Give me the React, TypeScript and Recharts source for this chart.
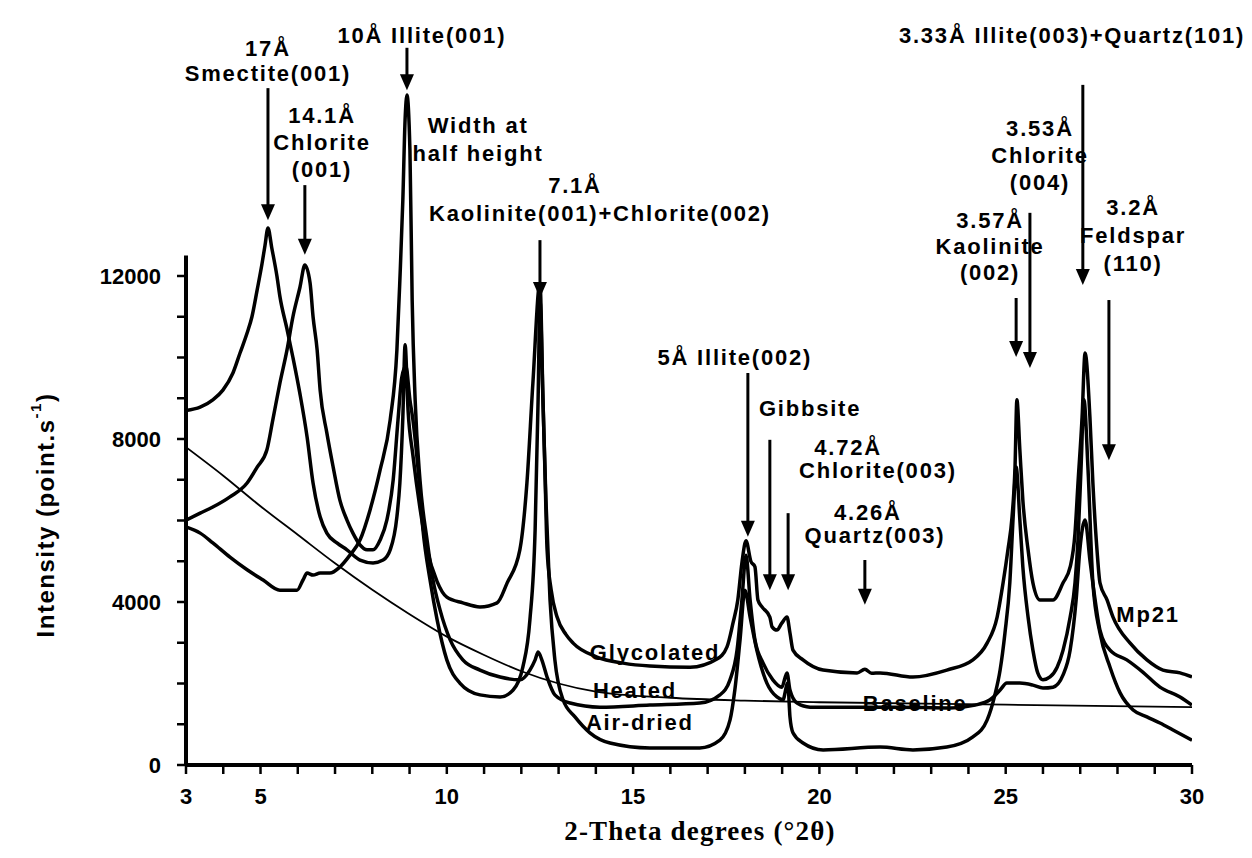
import React from "react";
import { LineChart, Line, XAxis, YAxis, ReferenceLine, ReferenceDot } from "recharts";

// 2-theta (degrees) vs intensity (counts/s)
const thetaTicks = [3, 4, 5, 6, 7, 8, 9, 10, 11, 12, 13, 14, 15, 16, 17, 18, 19, 20, 21, 22, 23, 24, 25, 26, 27, 28, 29, 30];
const thetaLabels = [3, 5, 10, 15, 20, 25, 30];
const intensityTicks = [0, 1000, 2000, 3000, 4000, 5000, 6000, 7000, 8000, 9000, 10000, 11000, 12000];
const intensityLabels = [0, 4000, 8000, 12000];

const glycolated: [number, number][] = [
  [3.0, 8700], [3.38, 8780], [3.72, 8960], [3.99, 9200], [4.26, 9620], [4.45, 10110], [4.64, 10600],
  [4.77, 11000], [4.91, 11660], [5.04, 12300], [5.12, 12750], [5.2, 13180], [5.3, 12700], [5.44, 12000],
  [5.52, 11500], [5.71, 10700], [5.87, 10000], [6.06, 9100], [6.25, 8050], [6.41, 6920], [6.6, 6090],
  [6.78, 5690], [7.05, 5450], [7.32, 5280], [7.67, 5030], [8.02, 4960], [8.29, 5030], [8.48, 5280],
  [8.66, 6090], [8.74, 6920], [8.82, 8540], [8.88, 10310], [8.96, 8700], [9.09, 7600], [9.28, 6300],
  [9.47, 5300], [9.74, 4500], [10.0, 4120], [10.43, 3980], [10.89, 3880], [11.35, 3980], [11.62, 4470],
  [11.96, 5280], [12.15, 6920], [12.31, 9370], [12.5, 11830], [12.58, 9000], [12.64, 7000], [12.69, 5300],
  [12.8, 4300], [12.96, 3630], [13.2, 3200], [13.39, 2990], [14.03, 2650], [14.73, 2500], [15.45, 2430],
  [16.53, 2400], [17.25, 2600], [17.52, 2900], [17.68, 3480], [17.81, 4050], [17.92, 4960], [18.03, 5500],
  [18.16, 5000], [18.27, 4860], [18.35, 4050], [18.46, 3880], [18.67, 3630], [18.73, 3390], [18.86, 3310],
  [18.99, 3480], [19.13, 3630], [19.21, 3240], [19.29, 2820], [19.56, 2580], [20.1, 2330], [21.01, 2260],
  [21.22, 2350], [21.4, 2250], [21.63, 2260], [22.51, 2160], [23.42, 2330], [24.12, 2580], [24.5, 2990],
  [24.77, 3630], [24.93, 4470], [25.06, 5280], [25.17, 6090], [25.25, 7310], [25.3, 8960], [25.38, 7730],
  [25.46, 6500], [25.6, 5280], [25.73, 4470], [25.92, 4050], [26.27, 4050], [26.54, 4470], [26.73, 4860],
  [26.86, 5690], [26.94, 6920], [27.05, 8540], [27.13, 10110], [27.26, 8540], [27.34, 6920], [27.45, 5280],
  [27.53, 4470], [27.72, 4050], [27.88, 3630], [28.34, 2990], [28.79, 2580], [29.22, 2330], [29.68, 2260],
  [30.0, 2160],
];

const heated: [number, number][] = [
  [3.0, 5840], [3.38, 5690], [3.72, 5450], [4.18, 5100], [4.64, 4790], [5.07, 4540], [5.52, 4290],
  [5.98, 4290], [6.14, 4540], [6.25, 4710], [6.41, 4660], [6.6, 4710], [6.86, 4710], [7.13, 4860],
  [7.4, 5150], [7.67, 5520], [7.94, 6260], [8.21, 7240], [8.48, 8470], [8.66, 10180], [8.74, 11900],
  [8.82, 13870], [8.88, 15830], [8.93, 16440], [9.01, 15090], [9.07, 11410], [9.15, 8960], [9.28, 6990],
  [9.47, 5520], [9.63, 4540], [9.82, 3800], [10.09, 3070], [10.43, 2580], [10.89, 2330], [11.43, 2160],
  [11.96, 2090], [12.23, 2330], [12.37, 2580], [12.45, 2770], [12.55, 2580], [12.69, 2160], [12.9, 1720],
  [13.31, 1520], [14.11, 1420], [15.45, 1470], [16.79, 1520], [17.33, 1720], [17.6, 2090], [17.79, 2820],
  [17.92, 4050], [18.03, 5150], [18.14, 4050], [18.27, 3070], [18.49, 2500], [18.75, 2090], [18.99, 1910],
  [19.13, 2260], [19.21, 1840], [19.4, 1520], [19.75, 1420], [20.82, 1420], [22.16, 1420], [23.5, 1400],
  [24.18, 1470], [24.58, 1600], [24.85, 1840], [25.03, 2010], [25.38, 2010], [25.73, 1960], [26.0, 1890],
  [26.27, 1910], [26.54, 2210], [26.73, 2820], [26.89, 4050], [26.99, 5280], [27.13, 6010], [27.26, 5030],
  [27.4, 4050], [27.53, 3310], [27.8, 2820], [28.25, 2580], [28.68, 2280], [29.14, 1910], [29.68, 1670],
  [30.0, 1470],
];

const airDried: [number, number][] = [
  [3.0, 6010], [3.38, 6180], [3.72, 6330], [4.18, 6580], [4.64, 6920], [4.91, 7310], [5.17, 7730],
  [5.33, 8470], [5.52, 9370], [5.71, 10180], [5.87, 11000], [6.06, 11730], [6.19, 12270], [6.33, 11830],
  [6.41, 11000], [6.52, 10180], [6.6, 9200], [6.78, 8150], [6.95, 7310], [7.13, 6500], [7.32, 6010],
  [7.48, 5690], [7.67, 5400], [7.86, 5280], [8.02, 5280], [8.21, 5520], [8.39, 6010], [8.56, 6990],
  [8.69, 8470], [8.79, 9500], [8.9, 9800], [9.01, 8960], [9.09, 8470], [9.23, 7240], [9.36, 5770],
  [9.55, 4540], [9.74, 3560], [10.0, 2580], [10.35, 2010], [10.89, 1720], [11.43, 1670], [11.78, 1840],
  [12.04, 2400], [12.23, 3560], [12.37, 5770], [12.45, 8960], [12.5, 11410], [12.58, 8960], [12.66, 6500],
  [12.77, 4050], [12.9, 2580], [13.12, 1600], [13.44, 1180], [13.84, 790], [14.38, 540], [15.45, 420],
  [16.79, 420], [17.33, 610], [17.6, 1100], [17.73, 1840], [17.87, 3070], [18.0, 4290], [18.14, 3630],
  [18.32, 2820], [18.59, 2010], [18.86, 1670], [19.02, 1600], [19.15, 2010], [19.21, 1180], [19.29, 790],
  [19.56, 540], [20.1, 370], [21.63, 440], [22.51, 370], [23.42, 440], [24.12, 690], [24.5, 1100],
  [24.71, 1720], [24.85, 2330], [24.98, 3240], [25.11, 4470], [25.2, 6090], [25.28, 7310], [25.38, 6010],
  [25.46, 4860], [25.6, 3630], [25.73, 2820], [25.86, 2260], [26.0, 2090], [26.19, 2160], [26.38, 2400],
  [26.54, 2820], [26.73, 3630], [26.86, 4470], [26.94, 5520], [27.02, 7240], [27.1, 8960], [27.21, 7240],
  [27.34, 4470], [27.53, 3240], [27.8, 2400], [28.07, 1770], [28.42, 1350], [28.79, 1180], [29.14, 1030],
  [29.49, 860], [30.0, 610],
];

const baseline: [number, number][] = [
  [3.0, 7800], [4.0, 7100], [5.0, 6350], [6.0, 5650], [7.0, 4950], [8.0, 4300], [9.0, 3700],
  [10.0, 3150], [11.0, 2700], [12.0, 2300], [13.0, 2000], [14.0, 1800], [16.0, 1650], [18.0, 1580],
  [20.0, 1540], [25.0, 1480], [30.0, 1420],
];

// peak arrows: theta, shaft top, arrow tip (counts)
const peakArrows: [number, number, number][] = [
  [5.2, 16610, 13370], [6.19, 14230, 12520], [8.93, 17600, 16560], [12.5, 12880, 11460],
  [18.08, 9620, 5600], [18.67, 7980, 4290], [19.16, 6180, 4290], [21.22, 5030, 3930],
  [27.07, 16690, 11780], [25.65, 13550, 9740], [25.28, 11460, 10010], [27.77, 11410, 7480],
];

// peak captions: theta, counts of first line, lines
const peakNotes: { x: number; y: number; lines: string[]; gap: number }[] = [
  { x: 5.2, y: 17595, lines: ["17Å", "Smectite(001)"], gap: 25 },
  { x: 6.65, y: 15950, lines: ["14.1Å", "Chlorite", "(001)"], gap: 27 },
  { x: 9.33, y: 17910, lines: ["10Å Illite(001)"], gap: 0 },
  { x: 10.84, y: 15700, lines: ["Width at", "half height"], gap: 28 },
  { x: 13.44, y: 14230, lines: ["7.1Å"], gap: 0 },
  { x: 14.11, y: 13550, lines: ["Kaolinite(001)+Chlorite(002)"], gap: 0 },
  { x: 17.73, y: 10010, lines: ["5Å Illite(002)"], gap: 0 },
  { x: 19.75, y: 8760, lines: ["Gibbsite"], gap: 0 },
  { x: 20.77, y: 7800, lines: ["4.72Å"], gap: 0 },
  { x: 21.57, y: 7240, lines: ["Chlorite(003)"], gap: 0 },
  { x: 21.3, y: 6210, lines: ["4.26Å"], gap: 0 },
  { x: 21.49, y: 5640, lines: ["Quartz(003)"], gap: 0 },
  { x: 26.78, y: 17910, lines: ["3.33Å Illite(003)+Quartz(101)"], gap: 0 },
  { x: 25.92, y: 15630, lines: ["3.53Å", "Chlorite", "(004)"], gap: 27 },
  { x: 24.58, y: 13370, lines: ["3.57Å", "Kaolinite", "(002)"], gap: 26 },
  { x: 28.42, y: 13690, lines: ["3.2Å", "Feldspar", "(110)"], gap: 28 },
];

const curveNotes: { x: number; y: number; text: string }[] = [
  { x: 15.59, y: 2770, text: "Glycolated" },
  { x: 15.05, y: 1840, text: "Heated" },
  { x: 15.18, y: 1060, text: "Air-dried" },
  { x: 22.57, y: 1520, text: "Baseline" },
  { x: 28.82, y: 3700, text: "Mp21" },
];

const toPoints = (rows: [number, number][]) => rows.map(([x, y]) => ({ x, y }));

const SANS = "'Liberation Sans', Arial, sans-serif";
const SERIF = "'Liberation Serif', 'Times New Roman', serif";

const XTick = (props: any) => {
  const { x, y, payload } = props;
  if (!thetaLabels.includes(payload.value)) return <g />;
  return (
    <text x={x} y={y + 28} textAnchor="middle" fontFamily={SANS} fontWeight="bold" fontSize={22} fill="#000">
      {payload.value}
    </text>
  );
};

const YTick = (props: any) => {
  const { x, y, payload } = props;
  if (!intensityLabels.includes(payload.value)) return <g />;
  return (
    <text x={x - 14} y={y + 8} textAnchor="end" fontFamily={SANS} fontWeight="bold" fontSize={22} fill="#000">
      {payload.value}
    </text>
  );
};

const Arrow = (props: any) => {
  const { x1, y1, x2, y2 } = props;
  return (
    <g>
      <line x1={x1} y1={y1} x2={x2} y2={y2 - 12} stroke="#000" strokeWidth={3} />
      <polygon points={`${x2 - 7},${y2 - 16} ${x2 + 7},${y2 - 16} ${x2},${y2}`} fill="#000" />
    </g>
  );
};

const Caption = (lines: string[], gap: number) => (props: any) => {
  const { cx, cy } = props;
  return (
    <text
      x={cx}
      y={cy}
      textAnchor="middle"
      dominantBaseline="central"
      fontFamily={SANS}
      fontWeight="bold"
      fontSize={22}
      letterSpacing={1.8}
      fill="#000"
    >
      {lines.map((l, i) => (
        <tspan key={i} x={cx} dy={i === 0 ? 0 : gap}>
          {l}
        </tspan>
      ))}
    </text>
  );
};

const YTitle = () => (
  <text
    x={45}
    y={515}
    transform="rotate(-90 45 515)"
    textAnchor="middle"
    dominantBaseline="central"
    fontFamily={SANS}
    fontWeight="bold"
    fontSize={24}
    letterSpacing={1.5}
    fill="#000"
  >
    Intensity (point.s<tspan dy={-10} fontSize={15}>-1</tspan>
    <tspan dy={10}>)</tspan>
  </text>
);

const XTitle = () => (
  <text x={700} y={840} textAnchor="middle" fontFamily={SERIF} fontWeight="bold" fontSize={27} letterSpacing={1.2} fill="#000">
    2-Theta degrees (°2θ)
  </text>
);

export default function App() {
  return (
    <div style={{ position: "absolute", left: 0, top: 0, background: "#fff" }}>
      <LineChart width={1252} height={858} margin={{ top: 5, right: 60, bottom: 53, left: 106 }}>
        <XAxis
          type="number"
          dataKey="x"
          domain={[3, 30]}
          ticks={thetaTicks}
          interval={0}
          allowDataOverflow
          height={40}
          tick={<XTick />}
          tickSize={9}
          axisLine={{ stroke: "#000", strokeWidth: 4 }}
          tickLine={{ stroke: "#000", strokeWidth: 2.5 }}
          label={<XTitle />}
        />
        <YAxis
          type="number"
          dataKey="y"
          domain={[0, 18650]}
          ticks={intensityTicks}
          interval={0}
          allowDataOverflow
          width={80}
          tick={<YTick />}
          tickSize={9}
          axisLine={false}
          tickLine={{ stroke: "#000", strokeWidth: 2.5 }}
          label={<YTitle />}
        />
        <ReferenceLine segment={[{ x: 3, y: 0 }, { x: 3, y: 12500 }]} stroke="#000" strokeWidth={4} />
        <Line data={toPoints(baseline)} dataKey="y" type="monotone" stroke="#000" strokeWidth={1.8} dot={false} isAnimationActive={false} />
        <Line data={toPoints(glycolated)} dataKey="y" type="monotone" stroke="#000" strokeWidth={3.5} dot={false} isAnimationActive={false} />
        <Line data={toPoints(heated)} dataKey="y" type="monotone" stroke="#000" strokeWidth={3.5} dot={false} isAnimationActive={false} />
        <Line data={toPoints(airDried)} dataKey="y" type="monotone" stroke="#000" strokeWidth={3.5} dot={false} isAnimationActive={false} />
        {peakArrows.map(([x, top, tip], i) => (
          <ReferenceLine key={`a${i}`} segment={[{ x, y: top }, { x, y: tip }]} shape={<Arrow />} ifOverflow="visible" />
        ))}
        {peakNotes.map((n, i) => (
          <ReferenceDot key={`n${i}`} x={n.x} y={n.y} r={0} ifOverflow="visible" shape={Caption(n.lines, n.gap)} />
        ))}
        {curveNotes.map((n, i) => (
          <ReferenceDot key={`c${i}`} x={n.x} y={n.y} r={0} ifOverflow="visible" shape={Caption([n.text], 0)} />
        ))}
      </LineChart>
    </div>
  );
}
